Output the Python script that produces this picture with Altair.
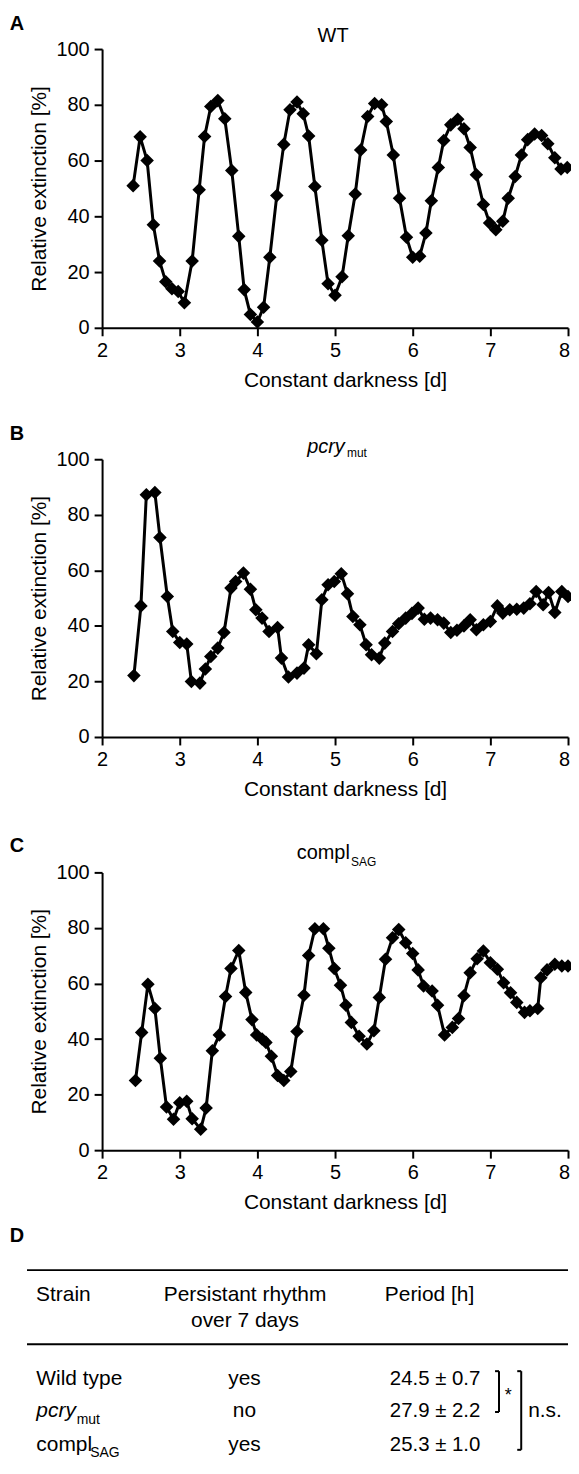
import altair as alt
import pandas as pd

FONT = "Liberation Sans"

# ---------------- data ----------------
X_TICKS = [2, 3, 4, 5, 6, 7, 8]
Y_TICKS = [0, 20, 40, 60, 80, 100]

wt_x = [2.40, 2.49, 2.58, 2.66, 2.74, 2.82, 2.90, 2.98, 3.06, 3.16, 3.25, 3.32, 3.40,
        3.49, 3.58, 3.67, 3.76, 3.83, 3.91, 4.00, 4.08, 4.16, 4.25, 4.34, 4.42, 4.51,
        4.59, 4.66, 4.74, 4.83, 4.91, 5.00, 5.09, 5.17, 5.26, 5.33, 5.42, 5.51, 5.60,
        5.66, 5.75, 5.83, 5.92, 6.00, 6.09, 6.17, 6.24, 6.33, 6.40, 6.49, 6.58, 6.66,
        6.74, 6.82, 6.91, 6.99, 7.07, 7.16, 7.23, 7.32, 7.40, 7.48, 7.57, 7.66, 7.74,
        7.83, 7.91, 7.99]
wt_y = [51, 68.5, 60, 37, 24, 16.5, 14, 13, 9, 24, 49.5, 68.6, 79.4,
        81.5, 75, 56.4, 32.8, 13.7, 4.8, 2.1, 7.4, 25.3, 47.5, 65.8, 78.2, 81,
        76.8, 68.8, 50.7, 31.4, 15.8, 11.7, 18.3, 33, 48, 63.8, 75.8, 80.5, 80,
        74, 62, 46.5, 32.5, 25.3, 25.7, 34, 45.6, 57.5, 67.2, 72.8, 74.8, 71.4,
        64.7, 54.9, 44.2, 37.6, 35.2, 38.2, 46.5, 54.3, 62, 67.5, 69.5, 69, 66,
        61, 57, 57.5]

pcry_x = [2.41, 2.50, 2.57, 2.68, 2.745, 2.84, 2.91, 3.00, 3.09, 3.15, 3.26, 3.33, 3.40,
          3.49, 3.57, 3.66, 3.72, 3.82, 3.91, 3.98, 4.06, 4.15, 4.26, 4.31, 4.40, 4.51,
          4.60, 4.66, 4.76, 4.83, 4.91, 4.99, 5.08, 5.16, 5.23, 5.32, 5.40, 5.47, 5.57,
          5.64, 5.74, 5.82, 5.91, 5.99, 6.07, 6.15, 6.23, 6.32, 6.40, 6.49, 6.57, 6.66,
          6.74, 6.82, 6.91, 7.00, 7.09, 7.16, 7.25, 7.34, 7.43, 7.51, 7.59, 7.68, 7.75,
          7.83, 7.92, 8.00]
pcry_y = [22.1, 47.2, 87.2, 88, 71.8, 50.6, 38, 34, 33.5, 20, 19.4, 24.5, 29,
          32, 37.6, 53.6, 56, 59, 53.2, 45.8, 42.8, 38, 39.4, 28.4, 21.6, 23,
          24.8, 33.2, 30, 49.4, 54.8, 56, 58.8, 51.6, 43.4, 40.4, 33.2, 29.6, 28.4,
          33.8, 38, 40.8, 42.8, 44.5, 46.4, 42.4, 42.8, 42.2, 41, 37.6, 38.4, 40,
          42.2, 38.6, 40.4, 41.6, 47.2, 44.6, 45.8, 46, 46.4, 48, 52.4, 47.6, 52,
          44.8, 52.4, 50.6]

compl_x = [2.43, 2.51, 2.59, 2.68, 2.75, 2.83, 2.92, 3.00, 3.09, 3.16, 3.27, 3.34, 3.42,
           3.51, 3.59, 3.66, 3.76, 3.85, 3.93, 3.99, 4.06, 4.11, 4.18, 4.26, 4.34, 4.43,
           4.51, 4.60, 4.66, 4.74, 4.85, 4.92, 4.99, 5.07, 5.14, 5.21, 5.31, 5.41, 5.50,
           5.57, 5.65, 5.74, 5.82, 5.91, 6.00, 6.07, 6.14, 6.25, 6.32, 6.41, 6.51, 6.59,
           6.66, 6.74, 6.83, 6.91, 7.00, 7.09, 7.17, 7.26, 7.34, 7.44, 7.51, 7.61, 7.65,
           7.73, 7.83, 7.92, 8.00]
compl_y = [25.1, 42.4, 59.7, 51, 33.1, 15.5, 11.1, 17.1, 17.6, 11.3, 7.5, 15.2, 35.8,
           41.5, 55.3, 65.4, 71.9, 56.8, 47, 41.5, 40, 38.8, 33.8, 26.9, 25.1, 28.3,
           42.7, 55.8, 70.1, 79.7, 79.7, 72.7, 65.4, 59.4, 52.2, 46, 41, 38.2, 43,
           55, 68.7, 76.5, 79.4, 74.7, 70.8, 64.9, 59.1, 57.3, 52.2, 41.5, 44.2, 47.4,
           55.6, 63.9, 68.9, 71.7, 67.5, 65.1, 60.3, 56.7, 53.2, 49.6, 50.2, 51, 62.1,
           64.9, 66.9, 66.3, 66.3]

# table contents
tbl_header = ["Strain", "Persistant rhythm", "over 7 days", "Period [h]"]
tbl_strain = ["Wild type", "pcry", "compl"]
tbl_strain_sub = ["", "mut", "SAG"]
tbl_rhythm = ["yes", "no", "yes"]
tbl_period = ["24.5 \u00b1 0.7", "27.9 \u00b1 2.2", "25.3 \u00b1 1.0"]
tbl_sig = ["*", "n.s."]

W = 468


def txt(text, x, y, size, weight="normal", style="normal", align="left", baseline="alphabetic"):
    return alt.Chart(alt.Data(values=[{}])).mark_text(
        text=text, font=FONT, fontSize=size, fontWeight=weight, fontStyle=style,
        align=align, baseline=baseline, color="black"
    ).encode(x=alt.value(x), y=alt.value(y))


def rule(x, y, x2=None, y2=None, width=2):
    enc = dict(x=alt.value(x), y=alt.value(y))
    if x2 is not None:
        enc["x2"] = alt.value(x2)
    if y2 is not None:
        enc["y2"] = alt.value(y2)
    return alt.Chart(alt.Data(values=[{}])).mark_rule(color="black", strokeWidth=width).encode(**enc)


def panel(xs, ys, height, extra):
    df = pd.DataFrame({"d": xs, "v": ys})
    xenc = alt.X("d:Q", scale=alt.Scale(domain=[2, 8], nice=False, zero=False),
                 axis=alt.Axis(values=X_TICKS, format="d", title="Constant darkness [d]",
                               titleX=244, titleY=59, titleBaseline="alphabetic",
                               titleAlign="center", labelPadding=4.5, labelFlush=False,
                               labelOffset={"condition": {"test": "datum.value == 8", "value": -4},
                                            "value": 0}))
    yenc = alt.Y("v:Q", scale=alt.Scale(domain=[0, 100], nice=False),
                 axis=alt.Axis(values=Y_TICKS, format="d", title="Relative extinction [%]",
                               titleX=-63, titleY=height / 2, titleBaseline="middle",
                               labelPadding=5, labelFlush=False))
    base = alt.Chart(df)
    line = base.mark_line(color="black", strokeWidth=3).encode(x=xenc, y=yenc)
    pts = base.mark_point(shape="diamond", filled=True, size=185, color="black",
                          opacity=1).encode(x="d:Q", y="v:Q")
    return alt.layer(line, pts, *extra).properties(width=W, height=height)


pA = panel(wt_x, wt_y, 280, [
    txt("A", -92.8, -19, 20, weight="bold"),
    txt("WT", 232, -7, 20, align="center"),
])
pB = panel(pcry_x, pcry_y, 279, [
    txt("B", -92.8, -19, 20, weight="bold"),
    txt("pcry", 206, -6, 20, style="italic"),
    txt("mut", 246, -2, 12),
])
pC = panel(compl_x, compl_y, 279, [
    txt("C", -92.8, -20, 20, weight="bold"),
    txt("compl", 195.5, -13, 20),
    txt("SAG", 250, -6, 12),
])

# ---------------- table ----------------
row_y = [158.5, 191, 225]
sub_y = [0, 198, 231.5]
sub_x = [0, -25.5, -12]
tlayers = [
    txt("D", -92.8, 15, 20, weight="bold"),
    rule(-75.4, 43.5, x2=468),
    rule(-75.4, 118, x2=468),
    txt(tbl_header[0], -66.3, 75, 21),
    txt(tbl_header[1], 143.6, 75, 21, align="center"),
    txt(tbl_header[2], 143.6, 101, 21, align="center"),
    txt(tbl_header[3], 284, 75, 21),
]
for i in range(3):
    tlayers.append(txt(tbl_strain[i], -66, row_y[i], 21, style="italic" if i == 1 else "normal"))
    if tbl_strain_sub[i]:
        tlayers.append(txt(tbl_strain_sub[i], sub_x[i], sub_y[i], 14))
    tlayers.append(txt(tbl_rhythm[i], 143, row_y[i], 21, align="center"))
    tlayers.append(txt(tbl_period[i], 289, row_y[i], 20.5))
# significance brackets
tlayers += [
    rule(398.7, 145, y2=186),
    rule(394.7, 145, x2=398.7),
    rule(394.7, 186, x2=398.7),
    txt(tbl_sig[0], 408, 175, 18, align="center"),
    rule(421, 145, y2=224),
    rule(417, 145, x2=421),
    rule(417, 224, x2=421),
    txt(tbl_sig[1], 428, 191, 21),
]
table = alt.layer(*tlayers).properties(width=W, height=229)

chart = alt.vconcat(
    pA,
    alt.vconcat(
        pB,
        alt.vconcat(pC, table, spacing=77, bounds="flush"),
        spacing=136, bounds="flush",
    ),
    spacing=132, bounds="flush",
).properties(
    padding={"left": 1.5, "top": 3, "right": -4, "bottom": -2}
).configure(
    font=FONT, background="white"
).configure_view(
    stroke=None
).configure_axis(
    grid=False, domainColor="black", domainWidth=2, tickColor="black", tickWidth=2,
    tickSize=8, labelFont=FONT, labelFontSize=20, labelColor="black",
    titleFont=FONT, titleFontSize=21, titleFontWeight="normal", titleColor="black",
)

chart.save("out.html", embed_options={"renderer": "svg", "actions": False})
